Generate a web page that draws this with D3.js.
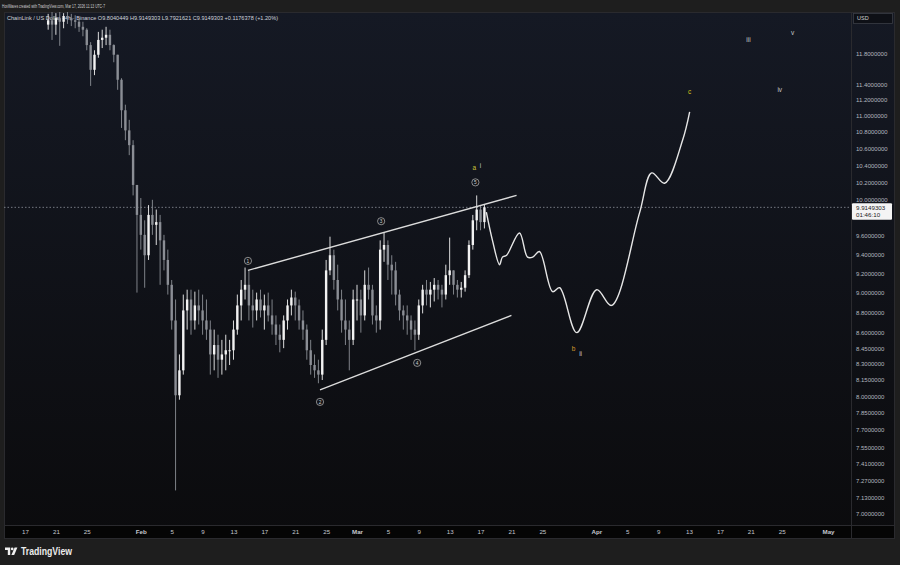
<!DOCTYPE html>
<html><head><meta charset="utf-8">
<script src="https://cdn.jsdelivr.net/npm/d3@7"></script>
<style>html,body{margin:0;padding:0;background:#1e1e1e;overflow:hidden}svg{display:block;font-family:"Liberation Sans",Arial,sans-serif}</style>
</head><body><svg id="c" width="900" height="565"></svg>
<script>
// ---------- DATA ----------
const candleStart = "2026-01-20T00:00:00Z"; // 12h candles
const candleHours = 12;
const firstOpen = 12.20;
const candleHigh = [12.35,12.39,12.36,12.38,12.36,12.38,12.35,12.33,12.29,12.24,
 12.15,11.96,11.85,12.10,12.13,12.17,12.13,11.93,11.79,11.48,
 11.14,10.95,10.70,10.17,10.02,9.77,9.94,10.00,9.89,9.83,
 9.61,9.45,9.13,8.93,8.39,8.98,9.03,9.03,9.01,9.03,
 8.98,8.93,8.72,8.63,8.58,8.53,8.58,8.53,8.72,8.98,
 9.13,9.26,9.23,9.03,9.00,9.03,8.98,9.00,8.93,8.77,
 8.68,8.77,8.93,9.03,9.01,8.93,8.82,8.68,8.53,8.39,
 8.34,8.63,9.34,9.59,9.45,9.29,9.03,8.93,8.72,9.03,
 9.08,9.03,9.23,9.26,9.08,8.87,9.55,9.64,9.55,9.39,
 9.32,9.03,8.87,8.87,8.77,8.72,8.93,9.08,9.13,9.11,
 9.15,9.13,9.08,9.29,9.58,9.23,9.13,9.11,9.23,9.55,
 9.83,10.05,9.94,9.95];
const candleLow = [12.13,11.99,12.06,11.91,12.15,12.21,12.18,12.15,12.10,12.04,
 11.85,11.38,11.52,11.75,11.88,11.92,11.85,11.69,11.33,10.85,
 10.70,10.52,10.05,9.00,9.45,9.05,9.34,9.61,9.50,9.08,
 9.23,8.98,8.63,7.19,7.97,8.20,8.63,8.58,8.63,8.68,
 8.58,8.53,8.20,8.24,8.17,8.20,8.24,8.29,8.34,8.58,
 8.72,8.93,8.72,8.65,8.72,8.75,8.63,8.71,8.58,8.48,
 8.41,8.45,8.63,8.77,8.72,8.63,8.53,8.34,8.20,8.17,
 8.12,8.15,8.48,9.18,9.03,8.82,8.60,8.48,8.24,8.48,
 8.72,8.60,8.72,8.93,8.68,8.60,8.63,9.32,9.13,8.98,
 8.87,8.72,8.63,8.58,8.53,8.43,8.53,8.79,8.87,8.85,
 8.91,8.93,8.85,8.93,9.08,8.98,8.95,8.95,9.01,9.15,
 9.45,9.66,9.66,9.68];
const candleClose = [12.26,12.20,12.29,12.24,12.32,12.29,12.26,12.24,12.17,12.13,
 11.92,11.59,11.79,11.99,12.02,12.06,11.92,11.79,11.46,11.07,
 10.82,10.64,10.17,9.83,9.61,9.39,9.83,9.72,9.75,9.55,
 9.34,9.08,8.72,8.01,8.24,8.82,8.93,8.72,8.87,8.82,
 8.72,8.63,8.39,8.48,8.34,8.39,8.43,8.43,8.63,8.87,
 9.03,9.08,8.87,8.82,8.93,8.82,8.87,8.77,8.68,8.58,
 8.53,8.72,8.87,8.95,8.87,8.72,8.63,8.43,8.29,8.24,
 8.20,8.53,9.23,9.39,9.13,8.93,8.72,8.63,8.53,8.93,
 8.93,8.77,9.08,9.03,8.77,8.72,9.45,9.50,9.29,9.23,
 8.98,8.82,8.77,8.72,8.63,8.58,8.87,9.03,8.98,9.03,
 9.08,9.03,8.98,9.18,9.23,9.08,9.03,9.05,9.18,9.50,
 9.77,9.89,9.75,9.9149303];

const lastPrice = 9.9149303;
const countdown = "01:46:10";

const projDates = ["2026-03-17T18:00Z","2026-03-18T13:00Z","2026-03-19T11:00Z","2026-03-19T20:00Z","2026-03-20T09:00Z",
 "2026-03-22T01:00Z","2026-03-23T02:00Z","2026-03-23T18:00Z","2026-03-24T15:00Z","2026-03-26T08:00Z",
 "2026-03-27T06:00Z","2026-03-29T11:00Z","2026-04-01T01:00Z","2026-04-02T23:00Z","2026-04-06T14:00Z",
 "2026-04-08T04:00Z","2026-04-09T20:00Z","2026-04-12T04:00Z","2026-04-13T02:00Z"];
const projPrices = [9.86,9.55,9.29,9.37,9.39,9.63,9.37,9.37,9.43,9.01,9.05,8.60,9.03,8.87,9.85,10.31,10.19,10.70,11.05];

const upperLineDates = ["2026-02-14T21:00Z","2026-03-21T16:00Z"];
const upperLinePrices = [9.23,10.05];
const lowerLineDates = ["2026-02-24T05:00Z","2026-03-21T00:00Z"];
const lowerLinePrices = [8.06,8.77];

const circleNames = ["1","2","3","4","5"];
const circleDates = ["2026-02-14T21:00Z","2026-02-24T05:00Z","2026-03-04T03:00Z","2026-03-08T19:00Z","2026-03-16T08:00Z"];
const circlePrices = [9.33,7.95,9.76,8.31,10.20];

const letterNames = ["a","i","b","ii","c","iii","iv","v"];
const letterDates = ["2026-03-16T05:00Z","2026-03-17T00:00Z","2026-03-29T01:00Z","2026-03-29T23:00Z","2026-04-13T02:00Z","2026-04-20T17:00Z","2026-04-24T18:00Z","2026-04-26T10:00Z"];
const letterPrices = [10.37,10.40,8.44,8.40,11.30,11.99,11.33,12.09];

const yTicks = [11.8,11.4,11.2,11.0,10.8,10.6,10.4,10.2,10.0,9.6,9.4,9.2,9.0,8.8,8.6,8.45,8.3,8.15,8.0,7.85,7.7,7.55,7.41,7.27,7.13,7.0];
const xTickDates = ["2026-01-17","2026-01-21","2026-01-25","2026-02-01","2026-02-05","2026-02-09","2026-02-13","2026-02-17","2026-02-21","2026-02-25",
 "2026-03-01","2026-03-05","2026-03-09","2026-03-13","2026-03-17","2026-03-21","2026-03-25","2026-04-01","2026-04-05","2026-04-09",
 "2026-04-13","2026-04-17","2026-04-21","2026-04-25","2026-05-01"];
const xTickLabels = ["17","21","25","Feb","5","9","13","17","21","25","Mar","5","9","13","17","21","25","Apr","5","9","13","17","21","25","May"];

const headerText = "HovWaves created with TradingView.com, Mar 17, 2026 11:13 UTC-7";
const legendText = "ChainLink / US Dollar · 4h · Binance  O9.8040449  H9.9149303  L9.7921621  C9.9149303  +0.1176378 (+1.20%)";

// ---------- DRAW ----------
const svg = d3.select("#c");
const P = {l:4, r:851, t:12, b:525, axR:895, axB:539};
const x = d3.scaleUtc().domain([new Date(Date.UTC(2026,0,17)), new Date(Date.UTC(2026,4,1))]).range([25,828]);
const y = d3.scaleLog().domain([7.0,11.8]).range([514,54]);

const defs = svg.append("defs");
const g1 = defs.append("linearGradient").attr("id","bg").attr("x1",0).attr("y1",0).attr("x2",0).attr("y2",1);
g1.append("stop").attr("offset","0%").attr("stop-color","#151924");
g1.append("stop").attr("offset","100%").attr("stop-color","#0b0b0d");
defs.append("clipPath").attr("id","plot").append("rect").attr("x",P.l).attr("y",P.t).attr("width",P.r-P.l).attr("height",P.b-P.t);

svg.append("rect").attr("width",900).attr("height",565).attr("fill","#1e1e1e");
svg.append("rect").attr("x",P.l).attr("y",P.t).attr("width",P.axR-P.l).attr("height",P.axB-P.t).attr("fill","url(#bg)");
svg.append("rect").attr("x",P.l).attr("y",P.b).attr("width",P.axR-P.l).attr("height",P.axB-P.b).attr("fill","#050505");
svg.append("line").attr("x1",P.l).attr("x2",P.axR).attr("y1",P.b+0.5).attr("y2",P.b+0.5).attr("stroke","#2a2a2e");
svg.append("line").attr("x1",P.r+0.5).attr("x2",P.r+0.5).attr("y1",P.t).attr("y2",P.axB).attr("stroke","#2a2a2e");
svg.append("rect").attr("x",P.l+0.5).attr("y",P.t+0.5).attr("width",P.axR-P.l-1).attr("height",P.axB-P.t-1).attr("fill","none").attr("stroke","#2a2a2e");

// header & legend
svg.append("text").attr("x",2).attr("y",7.6).attr("font-size",4.6).attr("fill","#cfcfcf").attr("textLength",103).attr("lengthAdjust","spacingAndGlyphs").text(headerText);
svg.append("text").attr("x",7).attr("y",20).attr("font-size",5.6).attr("fill","#d1d4dc").attr("textLength",271).attr("lengthAdjust","spacingAndGlyphs").text(legendText);

const plot = svg.append("g").attr("clip-path","url(#plot)");

plot.append("line").attr("x1",P.l).attr("x2",P.r).attr("y1",y(lastPrice)).attr("y2",y(lastPrice))
 .attr("stroke","#8f939c").attr("stroke-width",0.8).attr("stroke-dasharray","1.5,2");

// candles
const t0 = new Date(candleStart);
const candles = candleClose.map((c,i)=>{
  const o = i===0 ? firstOpen : candleClose[i-1];
  return {t:d3.utcHour.offset(t0, candleHours*i), o, h:candleHigh[i], l:candleLow[i], c};
});
const cg = plot.append("g");
candles.forEach(d=>{
  const cx = x(d.t);
  const up = d.c >= d.o;
  const col = up ? "#f2f2f2" : "#8b8e95";
  const hi = Math.max(d.h,d.o,d.c), lo = Math.min(d.l,d.o,d.c);
  cg.append("line").attr("x1",cx).attr("x2",cx).attr("y1",y(hi)).attr("y2",y(lo)).attr("stroke",col).attr("stroke-width",0.9);
  const yt = y(Math.max(d.o,d.c)), yb = y(Math.min(d.o,d.c));
  cg.append("rect").attr("x",cx-1.2).attr("y",yt).attr("width",2.4).attr("height",Math.max(1,yb-yt)).attr("fill",col);
});

// trend lines
const line = d3.line().x(d=>x(d[0])).y(d=>y(d[1]));
plot.append("path").attr("d",line(upperLineDates.map((d,i)=>[new Date(d),upperLinePrices[i]]))).attr("stroke","#dcdcdc").attr("stroke-width",1.4).attr("fill","none");
plot.append("path").attr("d",line(lowerLineDates.map((d,i)=>[new Date(d),lowerLinePrices[i]]))).attr("stroke","#dcdcdc").attr("stroke-width",1.4).attr("fill","none");

// projection
const pline = d3.line().x(d=>x(d[0])).y(d=>y(d[1])).curve(d3.curveCatmullRom.alpha(0.5));
plot.append("path").attr("d",pline(projDates.map((d,i)=>[new Date(d),projPrices[i]]))).attr("stroke","#e6e6e6").attr("stroke-width",1.4).attr("fill","none");

// circled wave labels
circleNames.forEach((n,i)=>{
  const cx = x(new Date(circleDates[i])), cy = y(circlePrices[i]);
  plot.append("circle").attr("cx",cx).attr("cy",cy).attr("r",3.6).attr("fill","#111318").attr("stroke","#a8a8a8").attr("stroke-width",0.8);
  plot.append("text").attr("x",cx).attr("y",cy).attr("dy","0.35em").attr("text-anchor","middle").attr("font-size",4.8).attr("fill","#d0d0d0").text(n);
});
const letterColor = {a:"#c9c43a", c:"#d9c21a", b:"#d99a2e"};
letterNames.forEach((n,i)=>{
  plot.append("text").attr("x",x(new Date(letterDates[i]))).attr("y",y(letterPrices[i])).attr("dy","0.35em").attr("text-anchor","middle")
   .attr("font-size",6.5).attr("fill",letterColor[n]||"#c8c8c8").text(n);
});

// y axis
const ya = svg.append("g").attr("transform",`translate(${P.r},0)`).call(d3.axisRight(y).tickValues(yTicks).tickFormat(d=>d.toFixed(7)).tickSize(0).tickPadding(5));
ya.select(".domain").remove();
ya.selectAll("text").attr("font-size",6).attr("fill","#b4b7bf").attr("font-family","Liberation Sans, Arial, sans-serif");

// x axis
const xa = svg.append("g").attr("transform",`translate(0,${P.b})`).call(d3.axisBottom(x).tickValues(xTickDates.map(d=>new Date(d+"T00:00:00Z"))).tickFormat((d,i)=>xTickLabels[i]).tickSize(0).tickPadding(5));
xa.select(".domain").remove();
xa.selectAll("text").attr("font-size",6.2).attr("fill","#c4c7cf").attr("font-family","Liberation Sans, Arial, sans-serif")
  .attr("font-weight",(d,i)=>isNaN(+xTickLabels[i])?"bold":"normal");

// USD box
svg.append("rect").attr("x",853.5).attr("y",13.5).attr("width",39).attr("height",10).attr("fill","#0e1016").attr("stroke","#3a3d45").attr("stroke-width",0.8);
svg.append("text").attr("x",857).attr("y",18.5).attr("dy","0.35em").attr("font-size",5.5).attr("fill","#d0d0d0").text("USD");

// price label (sits just under the 10.0 tick)
const py = y(lastPrice);
svg.append("rect").attr("x",852).attr("y",py-4).attr("width",40).attr("height",16.5).attr("fill","#f4f4f4").attr("rx",1);
svg.append("text").attr("x",856).attr("y",py+0.6).attr("dy","0.35em").attr("font-size",6.2).attr("fill","#1a1a1a").text(lastPrice.toFixed(7));
svg.append("text").attr("x",856).attr("y",py+8).attr("dy","0.35em").attr("font-size",6.2).attr("fill","#1a1a1a").text(countdown);

// footer logo
const logo = svg.append("g").attr("fill","#f0f0f0");
logo.append("path").attr("d","M5,547.5 h5.2 v7.5 h-2.4 v-5 h-2.8 z");
logo.append("circle").attr("cx",12.2).attr("cy",548.9).attr("r",1.35);
logo.append("path").attr("d","M14.6,547.5 h2.8 l-3.2,7.5 h-2.8 z");
svg.append("text").attr("x",21).attr("y",555).attr("font-size",10.5).attr("font-weight","bold").attr("fill","#ececec")
  .attr("textLength",51).attr("lengthAdjust","spacingAndGlyphs").text("TradingView");
</script></body></html>
